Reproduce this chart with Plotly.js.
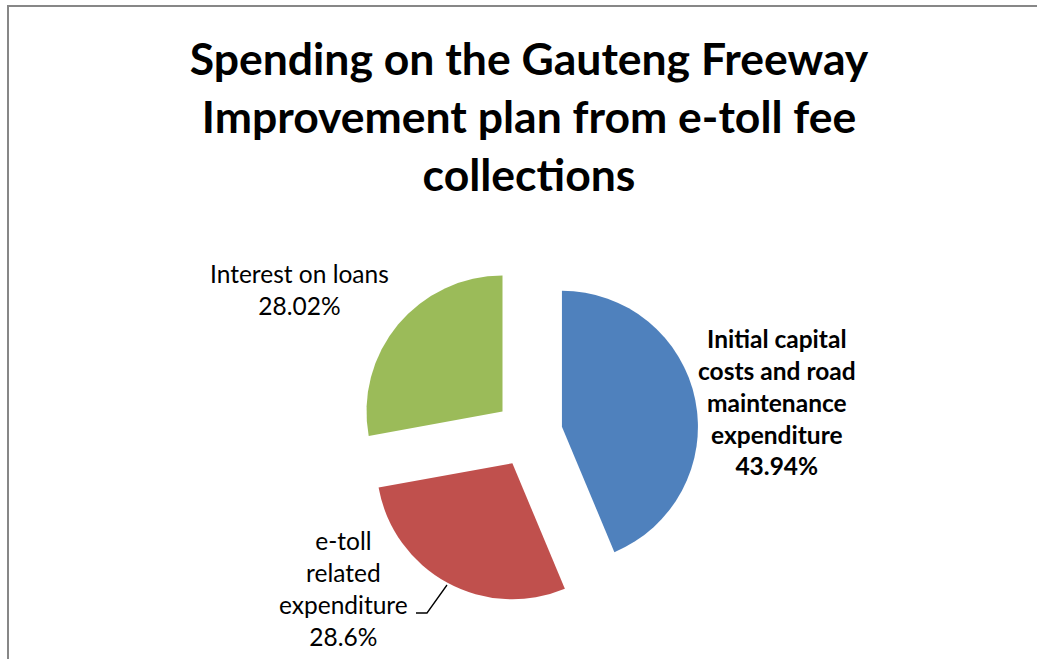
<!DOCTYPE html>
<html>
<head>
<meta charset="utf-8">
<script src="https://cdn.plot.ly/plotly-3.0.1.min.js"></script>
<style>html,body{margin:0;padding:0;background:#fff;}#chart{width:1037px;height:659px;}</style>
</head>
<body>
<div id="chart"></div>
<script>
const categories = ["Initial capital costs and road maintenance expenditure", "e-toll related expenditure", "Interest on loans"];
const values = [43.94, 28.6, 28.02];
const valueLabels = ["43.94%", "28.6%", "28.02%"];
const colors = ["#4F81BD", "#C0504D", "#9BBB59"];

const W = 1037, H = 659;
const px = x => x / W;
const py = y => 1 - y / H;

const trace = {
  type: "pie",
  labels: categories,
  values: values,
  sort: false,
  direction: "clockwise",
  rotation: 0,
  pull: [0.25, 0.25, 0.25],
  marker: {colors: colors, line: {width: 0}},
  textinfo: "none",
  hoverinfo: "label+percent",
  showlegend: false,
  domain: {x: [px(358.6), px(698.6)], y: [py(603.4), py(263.4)]}
};

const font = "Lato, 'Open Sans', sans-serif";
const lblSize = 24.5;
const layout = {
  width: W, height: H,
  margin: {l: 0, r: 0, t: 0, b: 0},
  paper_bgcolor: "#ffffff",
  title: {
    text: "<b>Spending on the Gauteng Freeway<br>Improvement plan from e-toll fee<br>collections</b>",
    font: {family: font, size: 44.5, color: "#000000"},
    x: px(529), xanchor: "center",
    y: py(75), yanchor: "middle"
  },
  annotations: [
    {text: "<b>Initial capital<br>costs and road<br>maintenance<br>expenditure<br>" + valueLabels[0] + "</b>",
     x: px(777), y: py(402), xref: "paper", yref: "paper", showarrow: false,
     xanchor: "center", yanchor: "middle", align: "center",
     font: {family: font, size: lblSize, color: "#000"}},
    {text: "e-toll<br>related<br>expenditure<br>" + valueLabels[1],
     x: px(343), y: py(588), xref: "paper", yref: "paper", showarrow: false,
     xanchor: "center", yanchor: "middle", align: "center",
     font: {family: font, size: lblSize, color: "#000"}},
    {text: categories[2] + "<br>" + valueLabels[2],
     x: px(299), y: py(290), xref: "paper", yref: "paper", showarrow: false,
     xanchor: "center", yanchor: "middle", align: "center",
     font: {family: font, size: lblSize, color: "#000"}}
  ],
  shapes: [
    {type: "path", xref: "paper", yref: "paper",
     path: "M " + px(447) + " " + py(585) + " L " + px(427) + " " + py(613) + " L " + px(416) + " " + py(613),
     line: {color: "#000", width: 1.3}},
    {type: "path", xref: "paper", yref: "paper",
     path: "M " + px(8) + " " + py(665) + " L " + px(8) + " " + py(6) + " L " + px(1045) + " " + py(6),
     line: {color: "#878787", width: 2}}
  ]
};

Plotly.newPlot("chart", [trace], layout, {displayModeBar: false, staticPlot: true});
</script>
</body>
</html>
